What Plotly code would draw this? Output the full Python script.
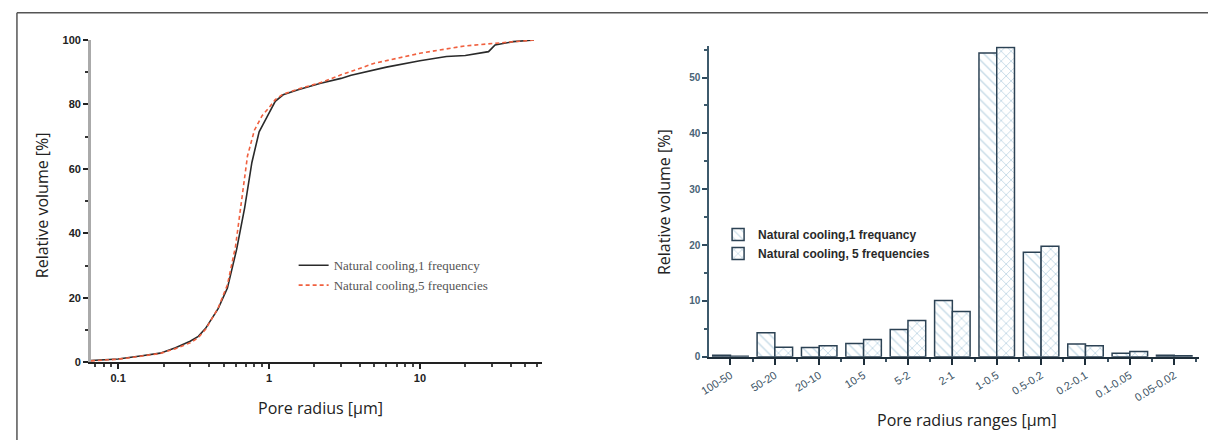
import plotly.graph_objects as go

W, H = 1208, 446

# ---------------- data: left chart (cumulative curves) ----------------
r1_x = [0.066, 0.1, 0.144, 0.19, 0.24, 0.3, 0.34, 0.38, 0.46, 0.53, 0.61, 0.69, 0.77, 0.86,
        0.98, 1.1, 1.24, 1.56, 2.2, 3.0, 3.5, 6.0, 10, 15, 20, 28.5, 31.5, 41.5, 57]
r1_y = [0.5, 1.0, 2.0, 2.8, 4.5, 6.5, 8.0, 10.5, 16.6, 23, 35, 48, 62, 71.5,
        76.5, 81, 83, 84.6, 86.6, 88.1, 89.1, 91.6, 93.6, 94.9, 95.2, 96.4, 98.5, 99.5, 100]
r5_x = [0.066, 0.1, 0.144, 0.19, 0.24, 0.3, 0.34, 0.38, 0.46, 0.53, 0.6, 0.66, 0.72, 0.8,
        0.9, 1.0, 1.1, 1.24, 1.56, 2.2, 3.0, 5.0, 10, 20, 30, 50, 57]
r5_y = [0.4, 0.9, 1.9, 2.7, 4.2, 6.0, 7.6, 10.2, 16.8, 24, 36, 50, 64, 72,
        76.5, 79, 81.5, 83.2, 84.8, 86.8, 89.2, 92.8, 95.9, 98.2, 98.9, 99.9, 100]
name_r1 = "Natural cooling,1 frequency"
name_r5 = "Natural cooling,5 frequencies"

# ---------------- data: right chart (bars) ----------------
categories = ["100-50", "50-20", "20-10", "10-5", "5-2", "2-1", "1-0.5",
              "0.5-0.2", "0.2-0.1", "0.1-0.05", "0.05-0.02"]
bars_1 = [0.3, 4.3, 1.65, 2.4, 4.9, 10.1, 54.4, 18.7, 2.3, 0.65, 0.3]
bars_5 = [0.1, 1.7, 2.0, 3.1, 6.5, 8.1, 55.4, 19.8, 2.0, 0.95, 0.2]
name_b1 = "Natural cooling,1 frequancy"
name_b5 = "Natural cooling, 5 frequencies"

left_ticks = [0.1, 1, 10]
left_ticktext = ["0.1", "1", "10"]
left_minor = [0.07, 0.08, 0.09] + [k / 10 for k in range(2, 10)] + list(range(2, 10)) + [20, 30, 40, 50, 60]


def px(p):
    return p / W


def py(p):
    return 1 - p / H


idx = list(range(len(categories)))

fig = go.Figure()
fig.add_trace(go.Scatter(x=r1_x, y=r1_y, mode="lines", name=name_r1,
                         line=dict(color="#2a2a2a", width=1.6),
                         xaxis="x", yaxis="y", legend="legend2"))
fig.add_trace(go.Scatter(x=r5_x, y=r5_y, mode="lines", name=name_r5,
                         line=dict(color="#f0603f", width=1.6, dash="4px,3px"),
                         xaxis="x", yaxis="y", legend="legend2"))

edge = "#2c4254"
patc = "#8cb6ce"
fig.add_trace(go.Bar(x=idx, y=bars_1, name=name_b1, xaxis="x2", yaxis="y2",
                     marker=dict(color="white", line=dict(color=edge, width=1.5),
                                 pattern=dict(shape="\\", fgcolor=patc, bgcolor="white",
                                              size=7, solidity=0.2)),
                     legend="legend"))
fig.add_trace(go.Bar(x=idx, y=bars_5, name=name_b5, xaxis="x2", yaxis="y2",
                     marker=dict(color="white", line=dict(color=edge, width=1.5),
                                 pattern=dict(shape="x", fgcolor=patc, bgcolor="white",
                                              size=7, solidity=0.25)),
                     legend="legend"))

bold_tick = dict(family="Liberation Sans", size=11, color="#222", weight="bold")
blue_tick = dict(family="Liberation Sans", size=10, color="#4a6476", weight="bold")
cat_tick = dict(family="Liberation Sans", size=11, color="#3e5566")

fig.update_layout(
    width=W, height=H, margin=dict(l=0, r=0, t=0, b=0),
    paper_bgcolor="white", plot_bgcolor="rgba(0,0,0,0)",
    barmode="group", bargap=0.2, bargroupgap=0.0,
    xaxis=dict(domain=[px(81.5), px(536.7)], type="log", anchor="y",
               range=[-1.181, 1.811], tickvals=left_ticks, ticktext=left_ticktext,
               ticks="outside", ticklen=5, tickwidth=1.5, tickcolor="#222",
               showline=True, linecolor="#222", linewidth=1.5, showgrid=False,
               zeroline=False, tickfont=bold_tick,
               minor=dict(tickvals=left_minor, ticks="outside", ticklen=3,
                          tickcolor="#444", showgrid=False)),
    yaxis=dict(domain=[py(366), py(35)], range=[0, 100], anchor="x",
               tickvals=[0, 20, 40, 60, 80, 100], ticks="outside", ticklen=5,
               tickwidth=1.5, tickcolor="#222", showline=True, linecolor="#aaaaaa",
               linewidth=2.5, showgrid=False, zeroline=False, tickfont=bold_tick,
               minor=dict(tickvals=[10, 30, 50, 70, 90], ticks="outside", ticklen=3,
                          tickcolor="#333", showgrid=False)),
    xaxis2=dict(domain=[px(705), px(1199)], anchor="y2", range=[-0.48, 10.56],
                tickvals=idx, ticktext=categories, tickangle=-32,
                ticks="outside", ticklen=6, tickwidth=1.5, tickcolor="#1e2e3a",
                showline=True, linecolor="#1e2e3a", linewidth=2, showgrid=False,
                zeroline=False, tickfont=cat_tick,
                minor=dict(tick0=0.5, dtick=1, ticks="outside", ticklen=3,
                           tickcolor="#3a5060", showgrid=False)),
    yaxis2=dict(domain=[py(360.5), py(41.4)], anchor="x2", range=[0, 55.6],
                tickvals=[0, 10, 20, 30, 40, 50], ticks="outside", ticklen=5,
                tickwidth=1.5, tickcolor="#2e4a5e", showline=True, linecolor="#3d5a6c",
                linewidth=1.5, showgrid=False, zeroline=False, tickfont=blue_tick,
                minor=dict(tickvals=[5, 15, 25, 35, 45, 55], ticks="outside", ticklen=3,
                           tickcolor="#3d5a6c", showgrid=False)),
    legend=dict(x=px(714), y=py(220), xanchor="left", yanchor="top",
                bgcolor="rgba(0,0,0,0)", tracegroupgap=0, itemwidth=30,
                font=dict(family="Liberation Sans", size=12, color="#2a2a2a", weight="bold")),
    legend2=dict(x=px(286), y=py(251), xanchor="left", yanchor="top",
                 bgcolor="rgba(0,0,0,0)", tracegroupgap=0, itemwidth=30,
                 font=dict(family="Liberation Serif", size=13, color="#555")),
    showlegend=True,
)

title_font = dict(family="Open Sans", size=16, color="#222")
annots = [
    dict(text="Relative volume [%]", x=px(33), y=py(205), textangle=-90),
    dict(text="Pore radius [μm]", x=px(313), y=py(413), textangle=0),
    dict(text="Relative volume [%]", x=px(659), y=py(202), textangle=-90),
    dict(text="Pore radius ranges [μm]", x=px(965), y=py(425), textangle=0),
]
for a in annots:
    fig.add_annotation(xref="paper", yref="paper", xanchor="center", yanchor="middle",
                       showarrow=False, font=title_font, **a)

# outer frame
fig.add_shape(type="line", xref="paper", yref="paper", x0=px(7), x1=1, y0=py(7), y1=py(7),
              line=dict(color="#555", width=1.5))
fig.add_shape(type="line", xref="paper", yref="paper", x0=px(7), x1=px(7), y0=py(7), y1=0,
              line=dict(color="#555", width=1.5))

fig.write_html("out.html",
               post_script="document.body.style.margin='0';document.body.style.overflow='hidden';")
